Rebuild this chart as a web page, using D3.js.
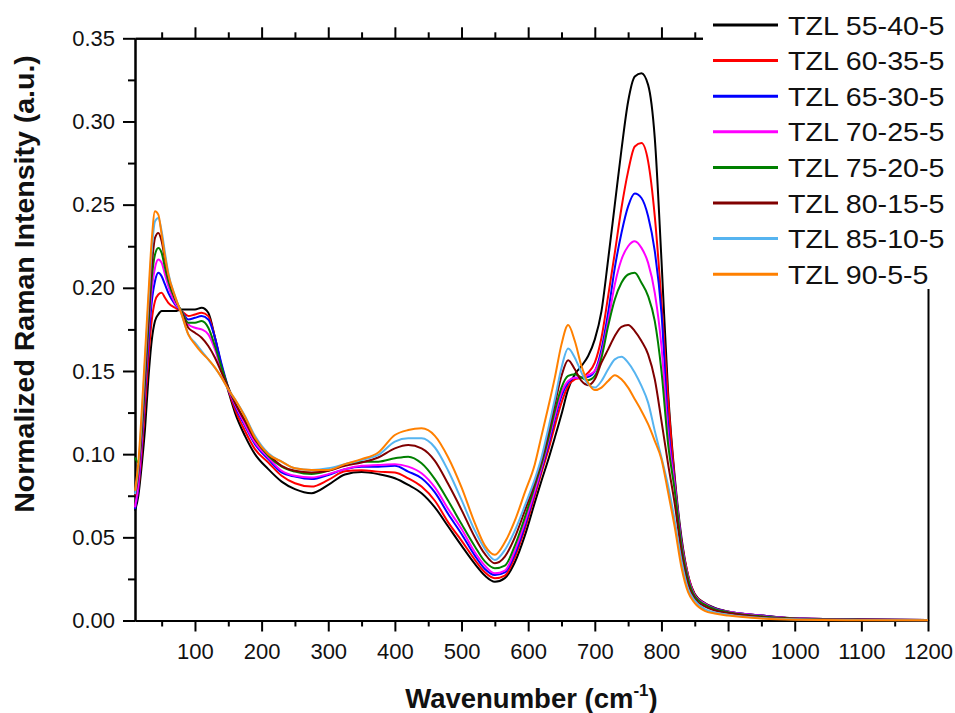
<!DOCTYPE html>
<html>
<head>
<meta charset="utf-8">
<script src="https://cdn.jsdelivr.net/npm/d3@7"></script>
<style>
  html, body { margin: 0; padding: 0; background: #fff; }
  svg { display: block; font-family: "Liberation Sans", Arial, sans-serif; }
</style>
</head>
<body>
<svg id="chart" width="955" height="713"></svg>
<script>
// ---------------- DATA ----------------
const wavenumber = [10,15,20,25,30,35,40,45,50,55,
  60,70,80,90,100,110,120,130,140,150,
  160,175,190,210,230,250,275,300,325,350,
  375,400,420,440,460,480,500,520,535,550,
  565,580,595,610,620,630,640,650,660,670,
  680,690,700,710,720,730,740,750,760,770,
  780,790,800,810,820,830,840,850,865,880,
  900,950,1000,1100,1200];

const tzl_55_40_5 = [.066,.075,.093,.115,.145,.168,.180,.184,.186,.186,
  .186,.186,.187,.187,.187,.188,.185,.170,.152,.138,
  .125,.111,.100,.091,.0835,.079,.0765,.0815,.0878,.0892,
  .088,.0855,.0815,.0765,.068,.0565,.045,.034,.027,.0233,
  .0255,.035,.051,.071,.084,.0965,.110,.124,.139,.148,
  .153,.159,.169,.186,.217,.250,.283,.312,.327,.329,
  .322,.290,.217,.137,.086,.050,.027,.016,.0105,.0076,
  .0054,.003,.0013,.0006,.0003];

const tzl_60_35_5 = [.068,.079,.100,.128,.157,.180,.192,.196,.197,.194,
  .191,.188,.186,.183,.184,.185,.183,.170,.153,.139,
  .127,.114,.103,.095,.087,.0825,.0805,.0845,.0897,.0903,
  .0895,.089,.0855,.0805,.072,.059,.048,.0365,.029,.0254,
  .027,.038,.055,.075,.089,.102,.117,.131,.141,.145,
  .146,.149,.155,.170,.195,.221,.248,.270,.285,.287,
  .276,.243,.192,.133,.084,.048,.027,.0155,.0102,.0074,
  .0053,.003,.0013,.0006,.0003];

const tzl_65_30_5 = [.067,.080,.105,.136,.166,.191,.204,.209,.207,.202,
  .197,.190,.186,.181,.182,.183,.181,.170,.154,.140,
  .129,.117,.106,.097,.089,.0865,.085,.0875,.091,.0925,
  .0925,.093,.0895,.0855,.077,.064,.052,.039,.031,.0274,
  .029,.040,.057,.077,.091,.105,.121,.135,.143,.146,
  .146,.1465,.150,.163,.185,.212,.233,.249,.2567,.254,
  .243,.222,.185,.118,.082,.047,.026,.015,.010,.0072,
  .0053,.003,.0013,.0006,.0003];

const tzl_70_25_5 = [.068,.082,.108,.140,.172,.198,.212,.217,.215,.208,
  .201,.191,.186,.178,.176,.175,.172,.163,.150,.139,
  .130,.118,.107,.098,.090,.087,.086,.088,.091,.093,
  .0935,.094,.0925,.0885,.080,.067,.055,.041,.033,.0284,
  .030,.042,.059,.078,.092,.107,.123,.137,.144,.146,
  .146,.1475,.150,.160,.180,.202,.217,.225,.228,.224,
  .215,.197,.165,.112,.081,.046,.026,.015,.010,.007,
  .0052,.0028,.0013,.0005,.0003];

const tzl_75_20_5 = [.098,.095,.112,.143,.176,.205,.220,.224,.221,.212,
  .204,.193,.186,.179,.179,.180,.176,.165,.152,.140,
  .131,.120,.109,.099,.0925,.0895,.088,.090,.0935,.0955,
  .0955,.0975,.0985,.0945,.085,.072,.058,.0445,.0355,.0314,
  .033,.045,.062,.081,.094,.109,.126,.140,.147,.148,
  .146,.1445,.147,.158,.177,.193,.203,.208,.209,.203,
  .195,.180,.150,.106,.078,.045,.025,.0145,.0095,.0068,
  .005,.0025,.0012,.0005,.0003];

const tzl_80_15_5 = [.075,.088,.115,.148,.182,.212,.230,.233,.228,.217,
  .207,.194,.185,.176,.173,.170,.165,.158,.149,.140,
  .131,.120,.109,.100,.093,.090,.089,.090,.093,.095,
  .098,.1035,.1055,.1035,.096,.082,.0665,.050,.040,.0344,
  .0384,.050,.066,.083,.096,.112,.130,.147,.1565,.151,
  .144,.1415,.145,.155,.163,.171,.1765,.1776,.174,.168,
  .160,.145,.120,.094,.070,.041,.022,.013,.0085,.006,
  .0045,.002,.001,.0004,.0002];

const tzl_85_10_5 = [.076,.092,.120,.155,.190,.222,.240,.242,.234,.221,
  .209,.195,.184,.172,.167,.162,.157,.152,.146,.139,
  .133,.123,.111,.1005,.0955,.0915,.0905,.0915,.094,.0965,
  .0995,.1075,.1095,.1095,.104,.090,.0725,.054,.043,.0364,
  .0424,.054,.069,.085,.098,.115,.133,.152,.1635,.158,
  .149,.142,.140,.144,.151,.157,.1585,.155,.149,.141,
  .131,.114,.098,.081,.060,.036,.019,.012,.0068,.0048,
  .0035,.0015,.0007,.0003,.0002];

const tzl_90_5_5 = [.078,.095,.125,.160,.195,.228,.246,.244,.232,.219,
  .208,.195,.184,.172,.166,.161,.157,.152,.146,.139,
  .133,.1225,.110,.100,.0955,.0915,.0905,.0905,.094,.097,
  .101,.1115,.1145,.1155,.111,.098,.080,.0585,.045,.0395,
  .047,.060,.077,.094,.111,.128,.146,.166,.1776,.168,
  .153,.143,.1385,.140,.144,.1475,.145,.140,.133,.126,
  .118,.108,.097,.077,.056,.032,.017,.0105,.0058,.0042,
  .003,.0012,.0005,.0002,.0002];

const seriesNames = ["TZL 55-40-5","TZL 60-35-5","TZL 65-30-5","TZL 70-25-5",
                     "TZL 75-20-5","TZL 80-15-5","TZL 85-10-5","TZL 90-5-5"];
const seriesValues = [tzl_55_40_5, tzl_60_35_5, tzl_65_30_5, tzl_70_25_5,
                      tzl_75_20_5, tzl_80_15_5, tzl_85_10_5, tzl_90_5_5];
const seriesColors = ["#000000","#FF0000","#0000FF","#FF00FF",
                      "#008000","#800000","#56B4F0","#FF8000"];

const xMajorTicks = [100,200,300,400,500,600,700,800,900,1000,1100,1200];
const xMinorTicks = [50,150,250,350,450,550,650,750,850,950,1050,1150];
const yMajorTicks = [0,0.05,0.10,0.15,0.20,0.25,0.30,0.35];
const yMinorTicks = [0.025,0.075,0.125,0.175,0.225,0.275,0.325];

// ---------------- CHART ----------------
const svg = d3.select("#chart");
const L = 135, R = 928, T = 38.3, B = 620.5;
const x = d3.scaleLinear().domain([10, 1200]).range([L, R]);
const y = d3.scaleLinear().domain([0, 0.35]).range([B, T]);

const fs = 22;
// Left axis
const gL = svg.append("g").attr("transform", `translate(${L},0)`);
gL.call(d3.axisLeft(y).tickValues(yMajorTicks).tickFormat(d3.format(".2f"))
  .tickSize(12).tickPadding(8).tickSizeOuter(0));
gL.append("g").call(d3.axisLeft(y).tickValues(yMinorTicks).tickFormat("").tickSize(7).tickSizeOuter(0));

// Bottom axis
const gB = svg.append("g").attr("transform", `translate(0,${B})`);
gB.call(d3.axisBottom(x).tickValues(xMajorTicks).tickFormat(d3.format("d"))
  .tickSize(11).tickPadding(12).tickSizeOuter(0));
gB.append("g").call(d3.axisBottom(x).tickValues(xMinorTicks).tickFormat("").tickSize(6).tickSizeOuter(0));

// Top axis
const gT = svg.append("g").attr("transform", `translate(0,${T})`);
gT.call(d3.axisTop(x).tickValues(xMajorTicks).tickFormat("").tickSize(11).tickSizeOuter(0));
gT.append("g").call(d3.axisTop(x).tickValues(xMinorTicks).tickFormat("").tickSize(6).tickSizeOuter(0));

// Right axis (no ticks)
const gR = svg.append("g").attr("transform", `translate(${R},0)`);
gR.call(d3.axisRight(y).tickValues([]).tickSizeOuter(0));

svg.selectAll(".domain").attr("stroke", "#000").attr("stroke-width", 2);
svg.selectAll(".tick line").attr("stroke", "#000").attr("stroke-width", 2);
svg.selectAll(".tick text").attr("font-size", fs).attr("fill", "#111")
  .attr("font-family", "'Liberation Sans', Arial, sans-serif");

// Lines
const line = d3.line()
  .x((d, i) => x(wavenumber[i]))
  .y(d => y(d))
  .curve(d3.curveMonotoneX);

const gLines = svg.append("g");
seriesValues.forEach((vals, k) => {
  gLines.append("path")
    .attr("d", line(vals))
    .attr("fill", "none")
    .attr("stroke", seriesColors[k])
    .attr("stroke-width", 2)
    .attr("stroke-linejoin", "round");
});

// Axis titles
const xt = svg.append("text")
  .attr("x", (L + R) / 2).attr("y", 708)
  .attr("text-anchor", "middle")
  .attr("font-size", 27.5).attr("font-weight", "bold").attr("fill", "#111");
xt.append("tspan").text("Wavenumber (cm");
xt.append("tspan").attr("font-size", 17).attr("dy", -12).text("-1");
xt.append("tspan").attr("dy", 12).text(")");

svg.append("text")
  .attr("transform", "translate(34,284) rotate(-90)")
  .attr("text-anchor", "middle")
  .attr("font-size", 28.5).attr("font-weight", "bold").attr("fill", "#111")
  .text("Normalized Raman Intensity (a.u.)");

// Legend (with white background covering the axis corner)
const gLeg = svg.append("g");
gLeg.append("rect").attr("x", 703).attr("y", 0).attr("width", 252).attr("height", 289).attr("fill", "#fff");
seriesNames.forEach((name, k) => {
  const ly = 25 + k * 35.6;
  gLeg.append("line").attr("x1", 713).attr("x2", 778).attr("y1", ly).attr("y2", ly)
    .attr("stroke", seriesColors[k]).attr("stroke-width", 3);
  gLeg.append("text").attr("transform", `translate(788,${ly + 9.5}) scale(1.08,1)`)
    .attr("font-size", 26.5).attr("fill", "#111").text(name);
});
</script>
</body>
</html>
